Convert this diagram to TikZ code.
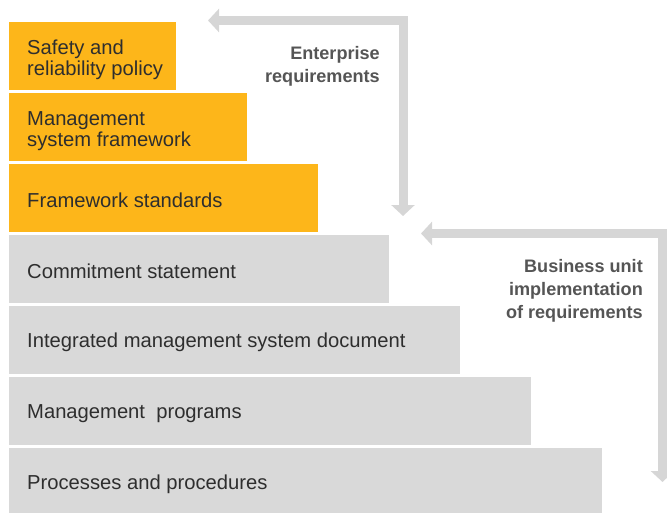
\documentclass[tikz,border=0pt]{standalone}
\usepackage{fontspec}
\setmainfont{Liberation Sans}
\usetikzlibrary{arrows.meta}
\definecolor{ora}{HTML}{FDB61A}
\definecolor{gbox}{HTML}{D9D9D9}
\definecolor{garr}{HTML}{D6D6D6}
\definecolor{txt}{HTML}{2E2E2E}
\definecolor{lbl}{HTML}{555555}
\begin{document}
\begin{tikzpicture}[x=1pt,y=-1pt,
  box/.style={rectangle,inner sep=0pt,anchor=north west,minimum height=68pt},
  obox/.style={box,fill=ora},
  gbx/.style={box,fill=gbox},
  btxt/.style={anchor=west,align=left,inner sep=0pt,text=txt,font=\fontsize{20.2}{21}\selectfont},
  ltxt/.style={anchor=north east,align=right,inner sep=0pt,text=lbl,font=\bfseries\fontsize{18.1}{23}\selectfont},
  arr/.style={draw=garr,line width=9pt,line join=miter,
    {Triangle[width=23pt,length=11pt]}-{Triangle[width=23pt,length=11pt]}}]
\useasboundingbox (0,0) rectangle (667,512);
\node[obox,minimum width=167pt] (b1) at (9,22) {};
\node[obox,minimum width=238pt] (b2) at (9,93) {};
\node[obox,minimum width=309pt] (b3) at (9,164) {};
\node[gbx,minimum width=380pt] (b4) at (9,235) {};
\node[gbx,minimum width=451pt] (b5) at (9,306) {};
\node[gbx,minimum width=522pt] (b6) at (9,377) {};
\node[gbx,minimum width=593pt] (b7) at (9,448) {};
\node[btxt] (t1) at ([xshift=18pt,yshift=-4pt]b1.west) {Safety and\\reliability policy};
\node[btxt] (t2) at ([xshift=18pt,yshift=-3.5pt]b2.west) {Management\\system framework};
\node[btxt] (t3) at ([xshift=18pt,yshift=-2pt]b3.west) {Framework standards};
\node[btxt] (t4) at ([xshift=18pt,yshift=-2pt]b4.west) {Commitment statement};
\node[btxt] (t5) at ([xshift=18pt,yshift=-2pt]b5.west) {Integrated management system document};
\node[btxt] (t6) at ([xshift=18pt,yshift=-2pt]b6.west) {Management\ \ programs};
\node[btxt] (t7) at ([xshift=18pt,yshift=-2pt]b7.west) {Processes and procedures};
\coordinate (a1s) at (208,20.5);
\coordinate (a1c) at (403,20.5);
\coordinate (a1e) at (403,216);
\coordinate (a2s) at (421,233.5);
\coordinate (a2c) at (662.5,233.5);
\coordinate (a2e) at (662.5,482);
\draw[arr] (a1s) -- (a1c) -- (a1e);
\draw[arr] (a2s) -- (a2c) -- (a2e);
\node[ltxt] (l1) at (380,46) {Enterprise\\requirements};
\node[ltxt] (l2) at (643,259) {Business unit\\implementation\\of requirements};
\end{tikzpicture}
\end{document}
